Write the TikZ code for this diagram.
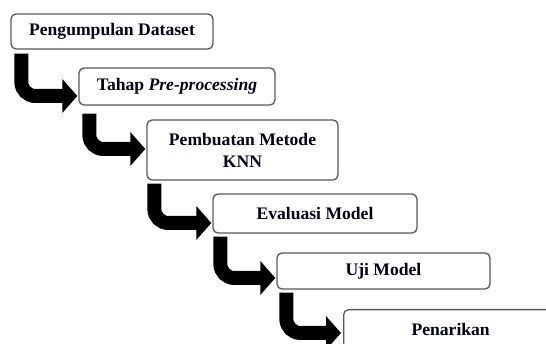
\documentclass[tikz,border=0pt]{standalone}
\usepackage{fontspec}
\setmainfont{Liberation Serif}
\usetikzlibrary{arrows.meta}

\tikzset{
  stage/.style={draw=black!65, line width=1.3pt, rounded corners=5pt,
    fill=white, inner sep=0pt, align=center,
    font=\fontsize{17.6}{22}\selectfont\bfseries, text=black!90!blue},
  stagetext/.style={inner sep=0pt, align=center,
    font=\fontsize{17.6}{22}\selectfont\bfseries, text=black!90!blue},
  bent/.style={line width=14pt, rounded corners=14pt,
    -{Triangle[length=15pt,width=33pt]}}
}

\begin{document}
\begin{tikzpicture}[x=1pt,y=-1pt]
  \useasboundingbox (0,0) rectangle (546,344);
  \clip (0,0) rectangle (546,344);
  \fill[white] (0,0) rectangle (546,344);

  % process stages
  \node[stage, minimum width=202pt, minimum height=35pt] (b1) at (112,31.5)
    {Pengumpulan Dataset};
  \node[stage, minimum width=196pt, minimum height=37pt] (b2) at (177,86.5)
    {Tahap \textit{Pre-processing}};
  \node[stage, minimum width=191pt, minimum height=60pt] (b3) at (242.5,150)
    {Pembuatan Metode\\KNN};
  \node[stage, minimum width=204pt, minimum height=39pt] (b4) at (315,213.5)
    {Evaluasi Model};
  \node[stage, minimum width=213pt, minimum height=36pt] (b5) at (383.5,271)
    {Uji Model};
  \node[stage, anchor=north west, minimum width=214pt, minimum height=62pt]
    (b6) at (343,309) {};
  \node[stagetext] (b6t) at ([yshift=-20pt]b6.north) {Penarikan};

  % bent arrows between stages
  \draw[bent] ([xshift=11pt,yshift=-4pt]b1.south west) |- ([xshift=-1pt,yshift=-9.5pt]b2.west);
  \draw[bent] ([xshift=11pt,yshift=-8pt]b2.south west) |- ([xshift=-1pt,yshift=1pt]b3.west);
  \draw[bent] ([xshift=8pt,yshift=-3pt]b3.south west) |- ([xshift=-1pt,yshift=-9.5pt]b4.west);
  \draw[bent] ([xshift=8pt,yshift=-3pt]b4.south west) |- ([xshift=-1pt,yshift=-7pt]b5.west);
  \draw[bent] ([xshift=10pt,yshift=-3pt]b5.south west) |- ([xshift=-2pt,yshift=-24pt]b6.north west);
\end{tikzpicture}
\end{document}
